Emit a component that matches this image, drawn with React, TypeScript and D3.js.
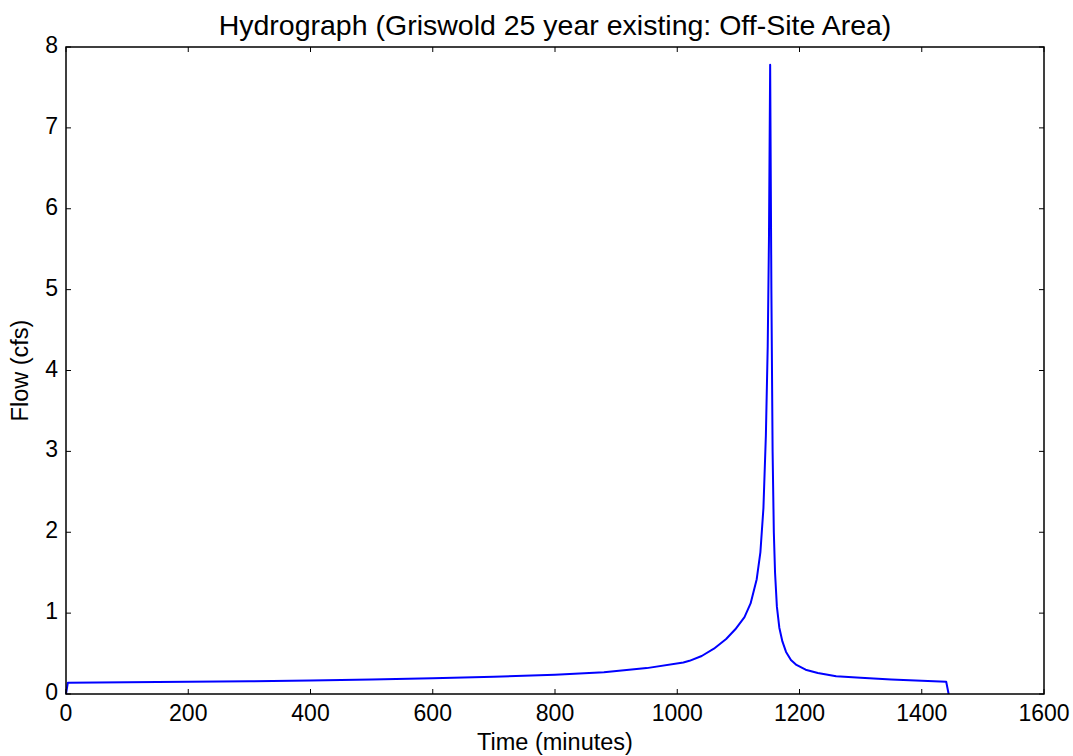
import { useEffect, useRef } from 'react';
import * as d3 from 'd3';

// hydrograph ordinates (minutes, cfs)
const times = [0, 3, 100, 200, 300, 400, 500, 600, 700, 800, 880, 950, 1010, 1020, 1040, 1060, 1080, 1095, 1110, 1120, 1130, 1136, 1141, 1145, 1148, 1150, 1152, 1154, 1156, 1158, 1160, 1163, 1167, 1172, 1178, 1186, 1195, 1210, 1230, 1260, 1300, 1350, 1400, 1440, 1444];
const flows = [0, 0.14, 0.145, 0.15, 0.158, 0.167, 0.18, 0.195, 0.213, 0.238, 0.27, 0.32, 0.39, 0.41, 0.47, 0.56, 0.68, 0.8, 0.95, 1.12, 1.42, 1.75, 2.3, 3.2, 4.3, 5.6, 7.78, 5.0, 3.0, 2.0, 1.5, 1.08, 0.82, 0.65, 0.52, 0.42, 0.36, 0.3, 0.26, 0.22, 0.2, 0.18, 0.165, 0.152, 0];

const xTicks = [0, 200, 400, 600, 800, 1000, 1200, 1400, 1600];
const yTicks = [0, 1, 2, 3, 4, 5, 6, 7, 8];

const title = 'Hydrograph (Griswold 25 year existing: Off-Site Area)';
const xLabel = 'Time (minutes)';
const yLabel = 'Flow (cfs)';

const W = 1073;
const H = 756;
const margin = { top: 47, right: 29, bottom: 62, left: 66 };

export default function App() {
  const ref = useRef<SVGSVGElement>(null);

  useEffect(() => {
    if (!ref.current) return;
    const svg = d3.select(ref.current);
    svg.selectAll('*').remove();

    const x = d3.scaleLinear().domain([0, 1600]).range([margin.left, W - margin.right]);
    const y = d3.scaleLinear().domain([0, 8]).range([H - margin.bottom, margin.top]);
    const font = 'Arial, "Liberation Sans", sans-serif';

    const data = times.map((t, i) => ({ t, v: flows[i] }));

    // line
    const line = d3.line<{ t: number; v: number }>()
      .x(d => x(d.t))
      .y(d => y(d.v));

    svg.append('path')
      .datum(data)
      .attr('fill', 'none')
      .attr('stroke', '#0000ff')
      .attr('stroke-width', 2)
      .attr('stroke-linejoin', 'round')
      .attr('d', line);

    // ticks pointing inward on all four sides
    const tickLen = 5;
    const ticks = svg.append('g').attr('stroke', '#000').attr('stroke-width', 1);
    xTicks.forEach(t => {
      ticks.append('line').attr('x1', x(t)).attr('x2', x(t)).attr('y1', y(0)).attr('y2', y(0) - tickLen);
      ticks.append('line').attr('x1', x(t)).attr('x2', x(t)).attr('y1', y(8)).attr('y2', y(8) + tickLen);
    });
    yTicks.forEach(v => {
      ticks.append('line').attr('x1', x(0)).attr('x2', x(0) + tickLen).attr('y1', y(v)).attr('y2', y(v));
      ticks.append('line').attr('x1', x(1600)).attr('x2', x(1600) - tickLen).attr('y1', y(v)).attr('y2', y(v));
    });

    // frame
    svg.append('rect')
      .attr('x', x(0))
      .attr('y', y(8))
      .attr('width', x(1600) - x(0))
      .attr('height', y(0) - y(8))
      .attr('fill', 'none')
      .attr('stroke', '#000')
      .attr('stroke-width', 1.5);

    // tick labels
    svg.append('g')
      .selectAll('text')
      .data(xTicks)
      .join('text')
      .attr('x', d => x(d))
      .attr('y', y(0) + 27)
      .attr('text-anchor', 'middle')
      .attr('font-family', font)
      .attr('font-size', 23)
      .text(d => d);

    svg.append('g')
      .selectAll('text')
      .data(yTicks)
      .join('text')
      .attr('x', x(0) - 8)
      .attr('y', d => y(d) + 6)
      .attr('text-anchor', 'end')
      .attr('font-family', font)
      .attr('font-size', 23)
      .text(d => d);

    // title and axis labels
    svg.append('text')
      .attr('x', (x(0) + x(1600)) / 2)
      .attr('y', 35)
      .attr('text-anchor', 'middle')
      .attr('font-family', font)
      .attr('font-size', 28.5)
      .text(title);

    svg.append('text')
      .attr('x', (x(0) + x(1600)) / 2)
      .attr('y', 750)
      .attr('text-anchor', 'middle')
      .attr('font-family', font)
      .attr('font-size', 23.5)
      .text(xLabel);

    svg.append('text')
      .attr('transform', `translate(28, ${(y(0) + y(8)) / 2}) rotate(-90)`)
      .attr('text-anchor', 'middle')
      .attr('font-family', font)
      .attr('font-size', 23.5)
      .text(yLabel);
  }, []);

  return (
    <svg
      ref={ref}
      width={W}
      height={H}
      style={{ position: 'absolute', left: 0, top: 0, background: '#fff' }}
    />
  );
}
